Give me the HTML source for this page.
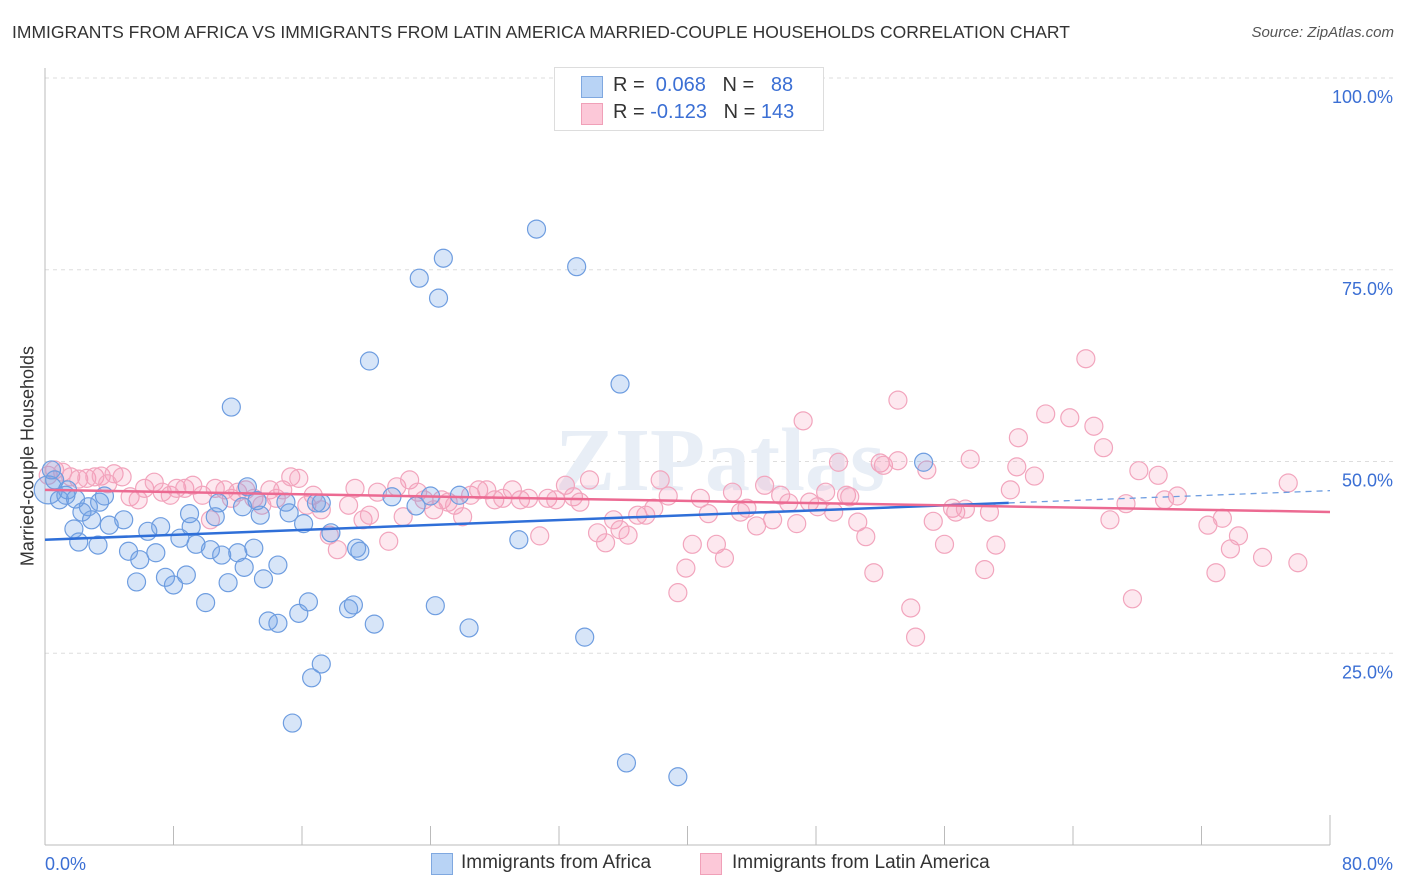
<!DOCTYPE html>
<html><head><meta charset="utf-8"><style>
body{margin:0;background:#fff;font-family:"Liberation Sans",sans-serif;}
#wrap{position:relative;width:1406px;height:892px;overflow:hidden;}
.t{position:absolute;white-space:nowrap;}
</style></head><body>
<div id="wrap">
<div class="t" style="left:12px;top:22px;font-size:17.5px;color:#333;">IMMIGRANTS FROM AFRICA VS IMMIGRANTS FROM LATIN AMERICA MARRIED-COUPLE HOUSEHOLDS CORRELATION CHART</div>
<div class="t" style="right:12px;top:24px;font-size:15px;color:#555;font-style:italic;">Source: ZipAtlas.com</div>
<svg id="plot" width="1406" height="892" style="position:absolute;left:0;top:0"></svg>
<div class="t" style="left:28px;top:456px;font-size:18px;color:#333;transform:translate(-50%,-50%) rotate(-90deg);">Married-couple Households</div>
<div style="position:absolute;left:554px;top:67px;width:268px;height:62px;border:1px solid #ddd;background:#fff;font-size:20px;">
 <div style="position:absolute;left:26px;top:8px;width:20px;height:20px;background:#b8d3f5;border:1px solid #7fa8e0;"></div>
 <div class="t" style="left:58px;top:6px;color:#333;">R = <span style="color:#3b6fd4">&nbsp;0.068</span>&nbsp;&nbsp;&nbsp;N = &nbsp;&nbsp;<span style="color:#3b6fd4">88</span></div>
 <div style="position:absolute;left:26px;top:35px;width:20px;height:20px;background:#fcc8d8;border:1px solid #f0a0b8;"></div>
 <div class="t" style="left:58px;top:33px;color:#333;">R = <span style="color:#3b6fd4">-0.123</span>&nbsp;&nbsp;&nbsp;N = <span style="color:#3b6fd4">143</span></div>
</div>
<div>
 <div style="position:absolute;left:431px;top:853px;width:20px;height:20px;background:#b8d3f5;border:1px solid #7fa8e0;"></div>
 <div class="t" style="left:461px;top:852px;font-size:19px;color:#333;">Immigrants from Africa</div>
 <div style="position:absolute;left:700px;top:853px;width:20px;height:20px;background:#fcc8d8;border:1px solid #f0a0b8;"></div>
 <div class="t" style="left:732px;top:852px;font-size:19px;color:#333;">Immigrants from Latin America</div>
</div>
</div>
<script>
const xTicks=[0,10,20,30,40,50,60,70,80];
const yTickVals=[25,50,75,100];
const yTickLabels=["25.0%","50.0%","75.0%","100.0%"];
const xEndLabels=["0.0%","80.0%"];
const africaX=[30.6,33.1,24.8,23.3,24.5,20.2,35.8,11.6,54.7,36.2,39.4,15.4,17.2,16.6,13.9,14.5,15.8,16.4,18.9,19.2,20.5,24.3,26.4,33.6,29.5,10.0,11.4,7.5,8.8,8.0,5.7,10.3,11.0,12.0,12.4,14.5,13.6,13.0,9.4,8.4,6.9,5.2,5.9,7.2,6.4,3.3,2.1,1.8,2.9,4.0,4.9,2.7,2.3,3.4,3.7,0.9,0.2,0.4,0.6,1.3,9.0,9.1,10.6,10.8,12.3,12.6,13.4,13.2,15.2,16.1,15.0,16.9,17.2,17.8,19.6,19.4,21.6,23.1,24.0,25.8,1.9,1.4];
const africaY=[80.3,75.4,76.5,73.9,71.3,63.1,60.1,57.1,49.9,10.7,8.9,15.9,23.6,21.8,29.2,28.9,30.2,31.7,30.8,31.3,28.8,31.2,28.3,27.1,39.8,31.6,34.2,34.9,35.2,33.9,34.3,38.5,37.8,38.1,36.2,36.5,34.7,38.7,39.2,40.0,38.1,38.3,37.2,41.5,40.9,39.1,39.5,41.2,42.4,41.7,42.4,44.1,43.4,44.7,45.5,45.0,46.3,48.9,47.6,45.6,43.2,41.5,42.8,44.6,44.1,46.7,43.0,44.9,43.3,41.9,44.7,44.6,44.6,40.7,38.3,38.7,45.4,44.2,45.5,45.6,45.1,46.3];
const latamX=[0.2,0.6,1.1,1.6,2.1,2.6,3.1,3.5,4.3,4.8,3.9,5.3,5.8,6.2,6.8,7.3,7.8,8.2,8.7,9.2,9.8,10.3,10.6,11.2,11.6,12.0,12.5,13.0,13.5,14.0,14.4,14.8,15.3,15.8,16.3,16.7,17.2,17.7,18.2,18.9,19.3,19.8,20.2,20.7,21.4,21.9,22.3,22.7,23.2,23.6,24.2,24.7,25.1,25.5,26.0,26.5,27.0,27.5,28.0,28.5,29.1,29.6,30.1,30.8,31.3,31.8,32.4,32.9,33.3,33.9,34.4,34.9,35.4,35.8,36.3,36.9,37.4,37.9,38.3,38.8,39.4,39.9,40.3,40.8,41.3,41.8,42.3,42.8,43.3,43.7,44.3,44.8,45.3,45.8,46.3,46.8,47.2,47.6,48.1,48.6,49.1,49.4,49.9,50.1,50.6,51.1,51.6,52.0,52.2,53.1,53.1,53.9,54.2,54.9,55.3,56.0,56.5,56.7,57.3,57.6,58.5,58.8,59.2,60.1,60.5,60.6,61.6,62.3,63.8,64.8,65.3,65.9,66.3,67.3,67.7,68.1,69.3,69.7,70.5,72.4,72.9,73.3,73.8,74.3,75.8,77.4,78.0];
const latamY=[48.2,48.9,48.6,48.0,47.7,47.8,48.0,48.1,48.4,48.0,47.1,45.4,45.0,46.5,47.3,46.0,45.6,46.5,46.5,46.9,45.6,42.4,46.5,46.3,45.2,46.0,46.3,45.2,44.3,46.3,45.2,46.3,48.0,47.8,44.3,45.6,43.7,40.4,38.5,44.3,46.5,42.4,43.0,46.0,39.6,46.7,42.8,47.6,46.0,45.0,43.7,45.0,44.7,44.3,42.8,45.6,46.3,46.3,45.0,45.2,46.3,45.0,45.2,40.3,45.2,45.0,46.9,45.4,44.7,47.6,40.7,39.4,42.4,41.1,40.4,43.0,43.0,43.9,47.6,45.5,32.9,36.1,39.2,45.2,43.2,39.2,37.4,46.0,43.4,43.9,41.6,46.9,42.4,45.6,44.6,41.9,55.3,44.7,44.1,46.0,43.4,49.9,45.6,45.4,42.1,40.2,35.5,49.8,49.5,58.0,50.1,30.9,27.1,48.9,42.2,39.2,43.9,43.4,43.8,50.3,35.9,43.4,39.1,46.3,49.3,53.1,48.1,56.2,55.7,63.4,54.6,51.8,42.4,44.5,32.1,48.8,48.2,45.0,45.5,41.7,35.5,42.6,38.6,40.3,37.5,47.2,36.8];
const africaTrend=[39.8,0.08]; // intercept, slope
const latamTrend=[46.3,-0.036];

const X0=45,X1=1330,Y0=845,Y100=78;
const sx=v=>X0+(v/80)*(X1-X0);
const sy=v=>Y0-(v/100)*(Y0-Y100);
const svg=document.getElementById('plot');
const NS='http://www.w3.org/2000/svg';
function mk(tag,attrs){const e=document.createElementNS(NS,tag);for(const k in attrs)e.setAttribute(k,attrs[k]);svg.appendChild(e);return e;}

yTickVals.forEach((v,i)=>{
 const g=mk('line',{x1:X0,x2:1395,y1:sy(v),y2:sy(v),stroke:'#ddd','stroke-dasharray':'4,4'});
 
 
 const t=mk('text',{x:1393,y:sy(v)+25,'text-anchor':'end','font-size':18,fill:'#3b6fd4','font-family':'Liberation Sans'});
 t.textContent=yTickLabels[i];
 
 
});
const ax=mk('line',{x1:X0,x2:X0,y1:68,y2:Y0,stroke:'#bbb'});


const bx=mk('line',{x1:X0,x2:X1,y1:Y0,y2:Y0,stroke:'#bbb'});


for(let v=0;v<=80;v+=80/10){
 const tk=mk('line',{x1:sx(v),x2:sx(v),y1:v===80?815:826,y2:Y0,stroke:'#bbb'});
 
 
}
[[0,'start',45],[80,'end',1393]].forEach((a,i)=>{
 const t=mk('text',{x:a[2],y:870,'text-anchor':a[1],'font-size':18,fill:'#3b6fd4','font-family':'Liberation Sans'});
 t.textContent=xEndLabels[i];
 
 
});
const wm=mk('text',{x:720,y:490,'text-anchor':'middle','font-size':90,fill:'#e8eef6','font-family':'Liberation Serif','font-weight':'bold'});
wm.textContent='ZIPatlas';



latamX.forEach((x,i)=>{
 const c=mk('circle',{cx:sx(x),cy:sy(latamY[i]),r:9,fill:'rgba(245,150,180,0.22)',stroke:'#f2a5bd','stroke-width':1.2});
 
 
});
africaX.forEach((x,i)=>{
 const c=mk('circle',{cx:sx(x),cy:sy(africaY[i]),r:(i===56?14:9),fill:'rgba(110,160,230,0.28)',stroke:'#6e9de0','stroke-width':1.2});
 
 
});
const ty=(t,x)=>t[0]+t[1]*x;
const l1=mk('line',{x1:sx(0),y1:sy(ty(africaTrend,0)),x2:sx(60),y2:sy(ty(africaTrend,60)),stroke:'#2f6fd8','stroke-width':2.5});


const l1d=mk('line',{x1:sx(60),y1:sy(ty(africaTrend,60)),x2:sx(80),y2:sy(ty(africaTrend,80)),stroke:'#6e9de0','stroke-width':1.3,'stroke-dasharray':'6,5'});


const l2=mk('line',{x1:sx(0),y1:sy(ty(latamTrend,0)),x2:sx(80),y2:sy(ty(latamTrend,80)),stroke:'#ec6a92','stroke-width':2.5});


</script>
</body></html>
